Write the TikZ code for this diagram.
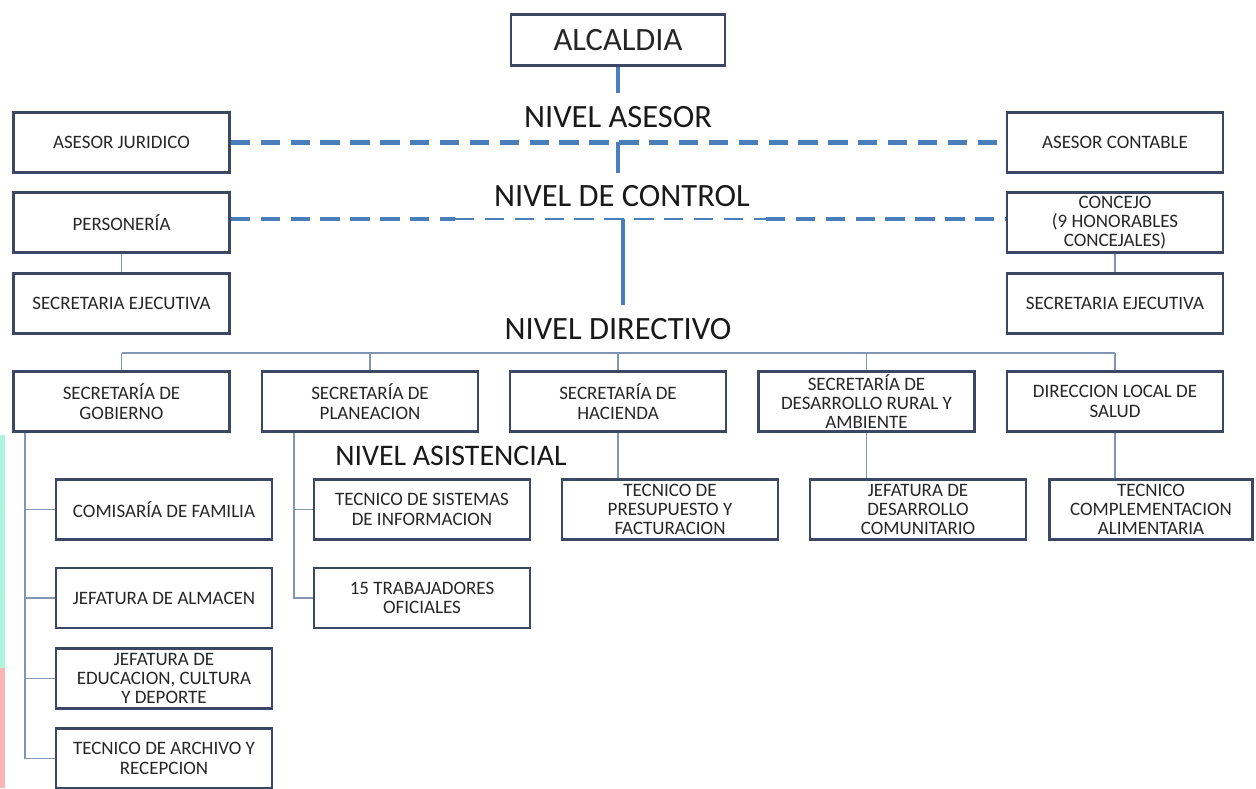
\documentclass[tikz,border=0pt]{standalone}
\usepackage{fontspec}
\setmainfont{Carlito}
\usepackage{tikz}
\usetikzlibrary{positioning}
\definecolor{boxblue}{RGB}{58,72,102}
\definecolor{trunkblue}{RGB}{74,126,187}
\definecolor{linkgray}{RGB}{128,150,178}
\definecolor{stripegreen}{RGB}{172,244,220}
\definecolor{stripepink}{RGB}{250,182,182}

\begin{document}
\begin{tikzpicture}[x=0.02cm, y=-0.02cm,
        office/.style={rectangle, draw=boxblue, line width=1.6pt, text=black!85, minimum width=4.32cm, minimum height=1.2cm, inner xsep=2pt, inner ysep=0.5pt, align=center, font=\fontsize{10.8}{11}\selectfont},
        tier/.style={inner sep=0pt, text=black!90, font=\fontsize{18.5}{20}\selectfont},
        trunk/.style={trunkblue, line width=2.8pt},
        dashlink/.style={trunkblue, line width=2.3pt, dash pattern=on 11pt off 6pt},
        thinlink/.style={linkgray, line width=0.8pt}]
        \useasboundingbox (0,0) rectangle (1256,788);
        \fill[stripegreen] (0,435) rectangle (5,668);
        \fill[stripepink] (0,668) rectangle (5,788);

        \node[office, minimum width=4.28cm, minimum height=1.02cm, font=\fontsize{18.5}{20}\selectfont] (alc) at (618,40) {ALCALDIA};

        \node[tier] (nivA) at (618,117) {NIVEL ASESOR};
        \node[office] (asesorJ) at (121.5,142.5) {ASESOR JURIDICO};
        \node[office] (asesorC) at (1115,142.5) {ASESOR CONTABLE};

        \node[tier] (nivC) at (622,196) {NIVEL DE CONTROL};
        \node[office] (pers) at (121.5,222.5) {PERSONERÍA};
        \node[office] (concejo) at (1115,222.5) {CONCEJO\\(9 HONORABLES\\CONCEJALES)};
        \node[office] (secejL) [below = 0.36cm of pers] {SECRETARIA EJECUTIVA};
        \node[office] (secejR) [below = 0.36cm of concejo] {SECRETARIA EJECUTIVA};

        \node[tier] (nivD) at (618,329) {NIVEL DIRECTIVO};
        \node[office] (secGob) at (121.5,401.5) {SECRETARÍA DE\\GOBIERNO};
        \node[office] (secPla) at (370,401.5) {SECRETARÍA DE\\PLANEACION};
        \node[office] (secHac) at (618,401.5) {SECRETARÍA DE\\HACIENDA};
        \node[office] (secDes) at (866.5,401.5) {SECRETARÍA DE\\DESARROLLO RURAL Y\\AMBIENTE};
        \node[office] (dirSal) at (1115,401.5) {DIRECCION LOCAL DE\\SALUD};

        \node[tier, font=\fontsize{17}{19}\selectfont] (nivAs) at (451,456) {NIVEL ASISTENCIAL};
        \node[office] (comis) at (164,509.5) {COMISARÍA DE FAMILIA};
        \node[office] (almac) at (164,598) {JEFATURA DE ALMACEN};
        \node[office] (educ) at (164,678.5) {JEFATURA DE\\EDUCACION, CULTURA\\Y DEPORTE};
        \node[office] (archivo) at (164,758.5) {TECNICO DE ARCHIVO Y\\RECEPCION};
        \node[office] (tecSis) at (422,509.5) {TECNICO DE SISTEMAS\\DE INFORMACION};
        \node[office] (trab) at (422,598) {15 TRABAJADORES\\OFICIALES};
        \node[office] (tecPres) at (670,509.5) {TECNICO DE\\PRESUPUESTO Y\\FACTURACION};
        \node[office] (jefDes) at (918,509.5) {JEFATURA DE\\DESARROLLO\\COMUNITARIO};
        \node[office, minimum width=4.06cm] (tecCom) at (1151,509.5) {TECNICO\\COMPLEMENTACION\\ALIMENTARIA};

        \coordinate (t1) at (618,93);
        \coordinate (t2) at (618,142);
        \coordinate (t3) at (618,173);
        \coordinate (t4) at (623,219);
        \coordinate (t5) at (623,305);
        \coordinate (d1) at (455,219);
        \coordinate (d2) at (766,219);
        \coordinate (bus) at (618,353);
        \coordinate (spineG) at (25,433);
        \coordinate (spineP) at (294,433);

        \path[trunk] (alc) edge (t1);
        \path[trunk] (t2) edge (t3);
        \path[trunk] (t4) edge (t5);
        \path[dashlink] (asesorJ) edge (asesorC);
        \path[dashlink] (pers.east |- d1) edge (d1);
        \path[dashlink, line width=1.1pt] (d1) edge (d2);
        \path[dashlink] (d2) edge (concejo.west |- d2);

        \path[thinlink] (pers) edge (secejL);
        \path[thinlink] (concejo) edge (secejR);
        \path[thinlink] (bus -| secGob.north) edge (bus -| dirSal.north);
        \path[thinlink] (bus -| secGob.north) edge (secGob.north);
        \path[thinlink] (bus -| secPla.north) edge (secPla.north);
        \path[thinlink] (bus -| secHac.north) edge (secHac.north);
        \path[thinlink] (bus -| secDes.north) edge (secDes.north);
        \path[thinlink] (bus -| dirSal.north) edge (dirSal.north);

        \draw[thinlink] (spineG) |- (comis.west);
        \draw[thinlink] (spineG) |- (almac.west);
        \draw[thinlink] (spineG) |- (educ.west);
        \draw[thinlink] (spineG) |- (archivo.west);
        \draw[thinlink] (spineP) |- (tecSis.west);
        \draw[thinlink] (spineP) |- (trab.west);
        \path[thinlink] (secHac.south) edge (secHac.south |- tecPres.north);
        \path[thinlink] (secDes.south) edge (secDes.south |- jefDes.north);
        \path[thinlink] (dirSal.south) edge (dirSal.south |- tecCom.north);
    \end{tikzpicture}
\end{document}
